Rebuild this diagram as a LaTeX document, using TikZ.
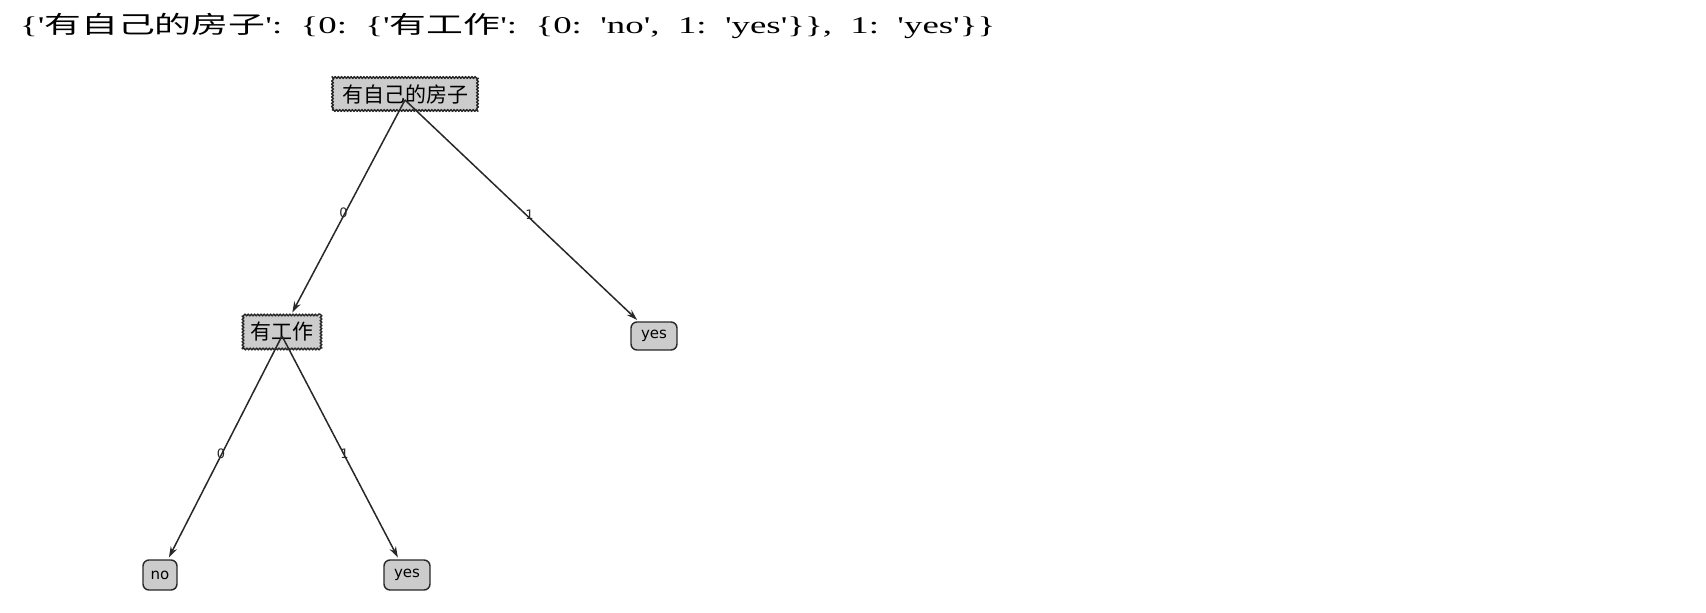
\documentclass[tikz,border=0pt]{standalone}
\usepackage{fontspec}
\setmainfont{Liberation Serif}[Ligatures=TeXOff]
\newfontfamily\cjk{Noto Sans CJK SC}
\newfontfamily\dvs{DejaVu Sans}
\usetikzlibrary{arrows.meta,decorations.pathmorphing}
\definecolor{boxfill}{RGB}{204,204,204}
\definecolor{edgecol}{RGB}{40,40,40}
\tikzset{
  decision/.style={draw=edgecol, fill=boxfill, line width=1.4pt, inner sep=0pt, line join=round,
    decorate, decoration={zigzag, segment length=#1, amplitude=0.9pt},
    font=\cjk\fontsize{21pt}{21pt}\selectfont},
  leaf/.style={draw=edgecol, fill=boxfill, line width=1.4pt, inner sep=0pt,
    rounded corners=6pt, font=\dvs\fontsize{15pt}{15pt}\selectfont},
  arr/.style={draw=edgecol, line width=1.5pt, -{Stealth[length=11pt,width=7pt]}, shorten >=2pt},
  elabel/.style={font=\dvs\fontsize{13pt}{13pt}\selectfont, text=edgecol, inner sep=0pt},
  title/.style={anchor=west, inner sep=0pt, font=\fontsize{24pt}{24pt}\selectfont}
}
\begin{document}
\begin{tikzpicture}[x=1pt,y=-1pt]
\useasboundingbox (0,0) rectangle (1706,613);
\node[title] (hdr) at (20,26) {\resizebox{975pt}{\height}{\{'{\cjk 有自己的房子}':\ \ \{0:\ \ \{'{\cjk 有工作}':\ \ \{0:\ \ 'no',\ \ 1:\ \ 'yes'\}\},\ \ 1:\ \ 'yes'\}\}}};
\node[decision=3.1786pt, minimum width=145pt, minimum height=33pt] (root) at (405,94) {有自己的房子};
\node[decision=3.2pt, minimum width=78pt, minimum height=34pt] (job) at (282,332) {有工作};
\node[leaf, minimum width=46pt, minimum height=28pt] (yesA) at (654,336) {yes};
\node[leaf, minimum width=34pt, minimum height=30pt] (no) at (160,575) {no};
\node[leaf, minimum width=46pt, minimum height=30pt] (yesB) at (407,575) {yes};
\draw[arr] ([yshift=-6pt]root.center) -- (job);
\draw[arr] ([yshift=-6pt]root.center) -- (yesA);
\draw[arr] ([yshift=-4pt]job.center) -- (no);
\draw[arr] ([yshift=-4pt]job.center) -- (yesB);
\path (root.center) -- (job.center) node[midway, elabel] (l1) {0};
\path (root.center) -- (yesA.center) node[midway, elabel] (l2) {1};
\path (job.center) -- (no.center) node[midway, elabel] (l3) {0};
\path (job.center) -- (yesB.center) node[midway, elabel] (l4) {1};
\end{tikzpicture}
\end{document}
